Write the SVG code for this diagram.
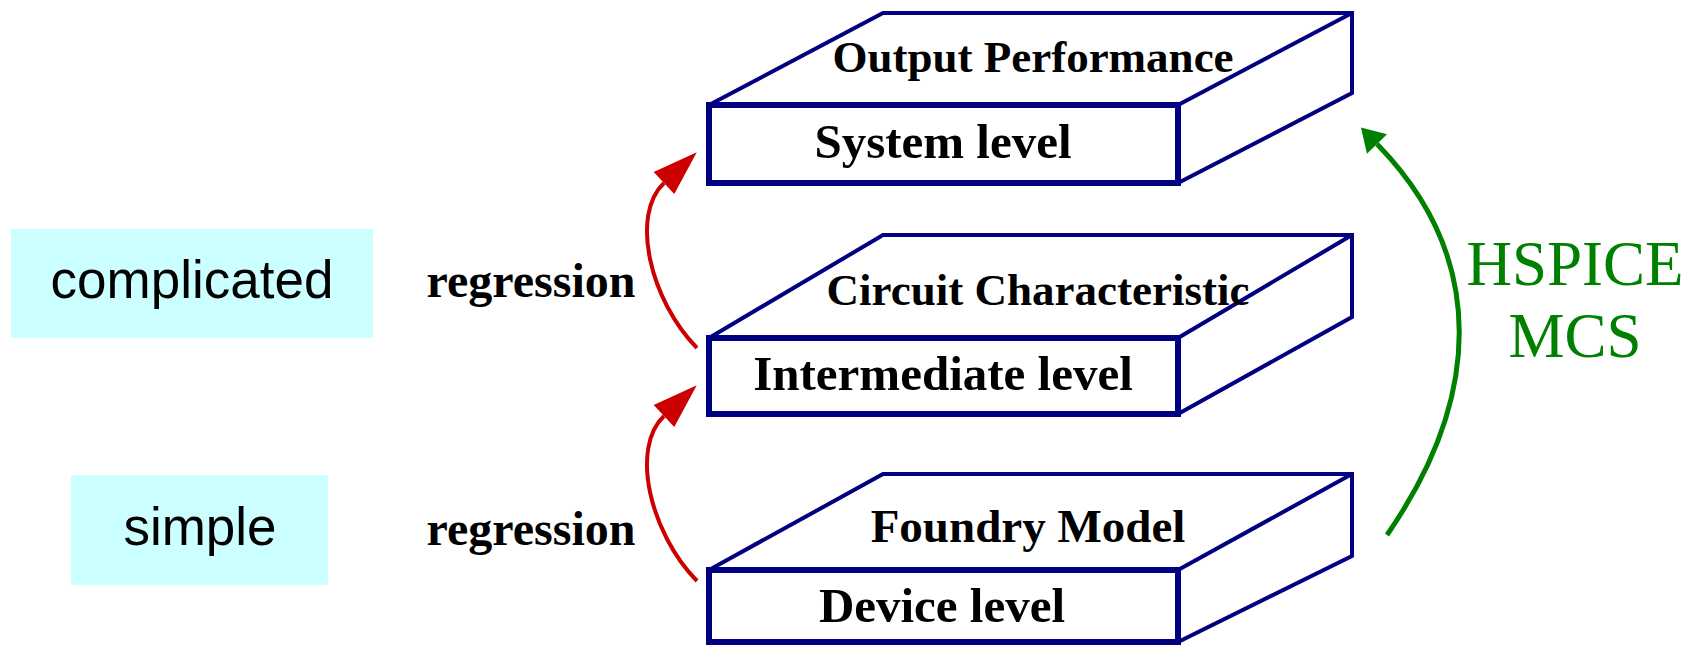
<svg xmlns="http://www.w3.org/2000/svg" width="1698" height="648" viewBox="0 0 1698 648">
<defs>
<style>
.face{fill:#ffffff;stroke:#000080;stroke-width:4;stroke-linejoin:miter}
.edge{fill:none;stroke:#000080;stroke-width:4}
.front{fill:#ffffff;stroke:#000080;stroke-width:6}
.lbl{font-family:"Liberation Serif","Times New Roman",serif;font-weight:bold;fill:#000000;text-anchor:middle}
.side{fill:#ccffff}
.sans{font-family:"Liberation Sans",Arial,sans-serif;font-size:53px;fill:#000000;text-anchor:middle}
.reg{font-family:"Liberation Serif","Times New Roman",serif;font-weight:bold;font-size:48px;fill:#000000;text-anchor:middle}
.hs{font-family:"Liberation Serif","Times New Roman",serif;font-size:63px;fill:#008000;text-anchor:middle}
.red{fill:none;stroke:#cc0000;stroke-width:4}
.green{fill:none;stroke:#008000;stroke-width:5}
</style>
<marker id="ahRed" markerUnits="userSpaceOnUse" markerWidth="50" markerHeight="34" refX="0" refY="15" orient="auto" overflow="visible">
<path d="M0,0 L45,15 L0,30 z" fill="#cc0000"/>
</marker>
<marker id="ahGreen" markerUnits="userSpaceOnUse" markerWidth="30" markerHeight="30" refX="0" refY="14" orient="auto" overflow="visible">
<path d="M0,0 L23,14 L0,28 z" fill="#008000"/>
</marker>
</defs>
<rect width="1698" height="648" fill="#ffffff"/>

<g id="complicated">
<rect class="side" x="11" y="229" width="362" height="109"/>
<text class="sans" x="192" y="298">complicated</text>
</g>
<g id="simple">
<rect class="side" x="71" y="475" width="257" height="110"/>
<text class="sans" x="200" y="545">simple</text>
</g>

<g id="system-level">
<path class="face" d="M709,105 L883,13 L1352,13 L1352,93 L1178,183 L709,183 Z"/>
<path class="edge" d="M1178,105 L1352,13"/>
<rect class="front" x="709" y="105" width="469" height="78"/>
<text class="lbl" x="1033" y="72" font-size="45">Output Performance</text>
<text class="lbl" x="943" y="158" font-size="49">System level</text>
</g>

<g id="intermediate-level">
<path class="face" d="M709,338 L883,235 L1352,235 L1352,317 L1178,414 L709,414 Z"/>
<path class="edge" d="M1178,338 L1352,235"/>
<rect class="front" x="709" y="338" width="469" height="76"/>
<text class="lbl" x="1038" y="305" font-size="45">Circuit Characteristic</text>
<text class="lbl" x="943" y="390" font-size="49">Intermediate level</text>
</g>

<g id="device-level">
<path class="face" d="M709,570 L883,474 L1352,474 L1352,556 L1178,642 L709,642 Z"/>
<path class="edge" d="M1178,570 L1352,474"/>
<rect class="front" x="709" y="570" width="469" height="72"/>
<text class="lbl" x="1028" y="542" font-size="47">Foundry Model</text>
<text class="lbl" x="942" y="622" font-size="49">Device level</text>
</g>

<g id="connectors">
<path class="red" d="M697,348 C650,300 630,215 664,183" marker-end="url(#ahRed)"/>
<path class="red" d="M697,581 C650,533 630,448 664,416" marker-end="url(#ahRed)"/>
<path class="green" d="M1387,535 C1480,400 1490,260 1377,144" marker-end="url(#ahGreen)"/>
</g>

<g id="labels">
<text class="reg" x="531" y="297">regression</text>
<text class="reg" x="531" y="545">regression</text>
<text class="hs" x="1575" y="285">HSPICE</text>
<text class="hs" x="1575" y="357">MCS</text>
</g>
</svg>
